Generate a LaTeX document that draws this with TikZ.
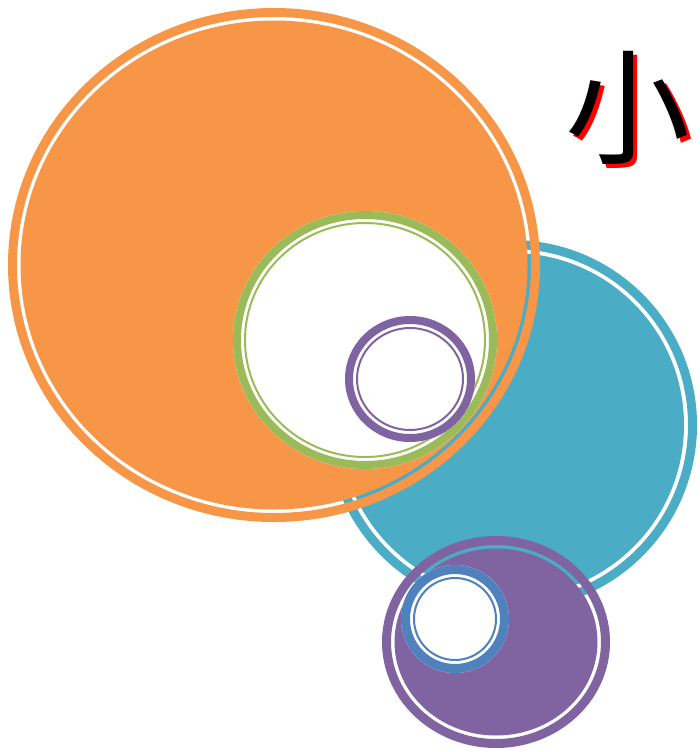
\documentclass[tikz,border=0pt]{standalone}
\usepackage{fontspec}
\newfontfamily\cjk{Noto Sans CJK SC}
\definecolor{ringorange}{HTML}{F79646}
\definecolor{ringteal}{HTML}{4BACC6}
\definecolor{ringgreen}{HTML}{9BBB59}
\definecolor{ringpurple}{HTML}{8064A2}
\definecolor{ringblue}{HTML}{4F81BD}

\begin{document}
\begin{tikzpicture}[
  x=1pt, y=-1pt,
  band/.style  = {line width=9pt},      % the heavy outer ring
  thinband/.style = {line width=2pt},   % the fine ring inside a hollow circle
  hollow/.style = {fill=white},
  title/.style = {font=\cjk\fontsize{125}{125}\selectfont, inner sep=0pt, anchor=base west},
]
  \useasboundingbox (0,0) rectangle (699,752);

  % teal, at the back
  \draw[band, ringteal] (512,425) ellipse (180.5pt and 180.5pt);
  \fill[ringteal] (512,425) ellipse (172pt and 172pt);

  % orange, over the teal: the gap lets the teal through
  \draw[band, ringorange] (274,265) ellipse (261.5pt and 252.5pt);
  \fill[ringorange] (274,265) ellipse (253.5pt and 244.5pt);

  % green, hollow
  \fill[hollow] (365,340) ellipse (132pt and 129pt);
  \draw[line width=8pt, ringgreen] (365,340) ellipse (128pt and 125pt);
  \draw[thinband, ringgreen] (365,340) ellipse (120pt and 117pt);

  % small purple, hollow
  \fill[hollow] (410,379) ellipse (65pt and 63pt);
  \draw[line width=8pt, ringpurple] (410,379) ellipse (61pt and 59pt);
  \draw[thinband, ringpurple] (410,379) ellipse (53pt and 51pt);

  % big purple at the bottom
  \draw[band, ringpurple] (496,642) ellipse (109.5pt and 101.5pt);
  \fill[ringpurple] (496,642) ellipse (101.5pt and 93.5pt);

  % blue, hollow
  \fill[hollow] (455,619) ellipse (54pt and 54pt);
  \draw[band, ringblue] (455,619) ellipse (49.5pt and 49.5pt);
  \draw[thinband, ringblue] (455,619) ellipse (41pt and 41pt);

  % the heading, cut by the right edge, with a red shadow
  \node[title, red] (heading_shadow) at (569,158) {小\kern8pt 结};
  \node[title, black] (heading) at (565,154) {小\kern8pt 结};
\end{tikzpicture}
\end{document}
